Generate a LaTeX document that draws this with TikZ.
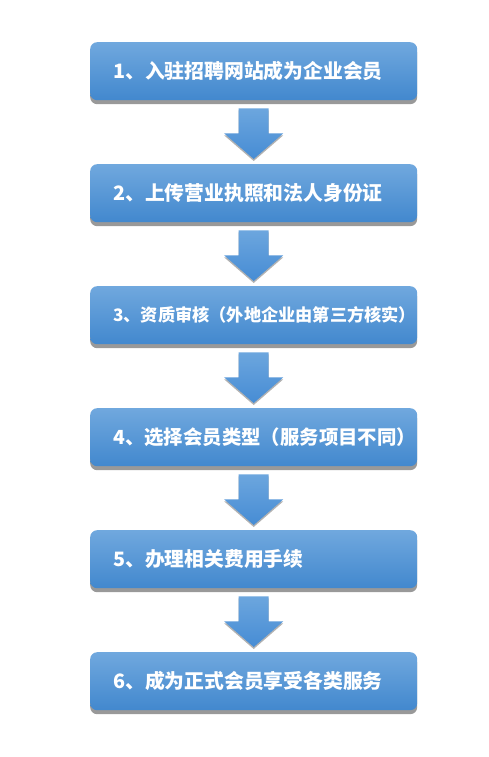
\documentclass[tikz,border=0pt]{standalone}
\usepackage{fontspec}
\newfontfamily\cjk{Noto Sans CJK SC}
\usetikzlibrary{calc,shadows}
\definecolor{boxtop}{RGB}{112,168,222}
\definecolor{boxbot}{RGB}{66,136,206}
\definecolor{arrtop}{RGB}{108,166,222}
\definecolor{arrbot}{RGB}{70,140,212}
\begin{document}
\begin{tikzpicture}[x=1pt, y=-1pt, line join=round,
		stepbox/.style={rectangle, rounded corners=7pt, minimum width=327pt, minimum height=58pt,
			inner xsep=0pt, text width=327pt, align=left, top color=boxtop, bottom color=boxbot,
			text=white, drop shadow={shadow xshift=0pt, shadow yshift=-4pt, opacity=0.4, fill=black},
			execute at begin node={\hspace*{23pt}}},
		arrowfill/.style={top color=arrtop, bottom color=arrbot,
			drop shadow={shadow xshift=0pt, shadow yshift=-2pt, opacity=0.3, fill=black}}]
	\useasboundingbox (0,0) rectangle (488,757);
	\fill[white] (0,0) rectangle (488,757);
	\def\flowstep#1#2#3{
		\node[stepbox, anchor=north west, font=\cjk\bfseries\fontsize{#2}{#2}\selectfont] (b#1) at (90, {42+122*(#1-1)}) {#3};
	}
	\def\flowarrow#1#2{
		\path[arrowfill] ($(#1.south)+(-15,8)$) -- ($(#1.south)+(15,8)$) -- ($(#1.south)+(15,33)$)
			-- ($(#1.south)+(29.5,33)$) -- ($(#2.north)+(0,-5)$) -- ($(#1.south)+(-29.5,33)$)
			-- ($(#1.south)+(-15,33)$) -- cycle;
	}
	
	\flowstep{1}{19.8}{1、入驻招聘网站成为企业会员}
	\flowstep{2}{19.8}{2、上传营业执照和法人身份证}
	\flowstep{3}{17.2}{3、资质审核（外地企业由第三方核实）}
	\flowstep{4}{19.4}{4、选择会员类型（服务项目不同）}
	\flowstep{5}{19.8}{5、办理相关费用手续}
	\flowstep{6}{19.8}{6、成为正式会员享受各类服务}
	
	\foreach \i [evaluate=\i as \j using int(\i+1)] in {1,...,5} {
		\flowarrow{b\i}{b\j}
	}
\end{tikzpicture}
\end{document}
